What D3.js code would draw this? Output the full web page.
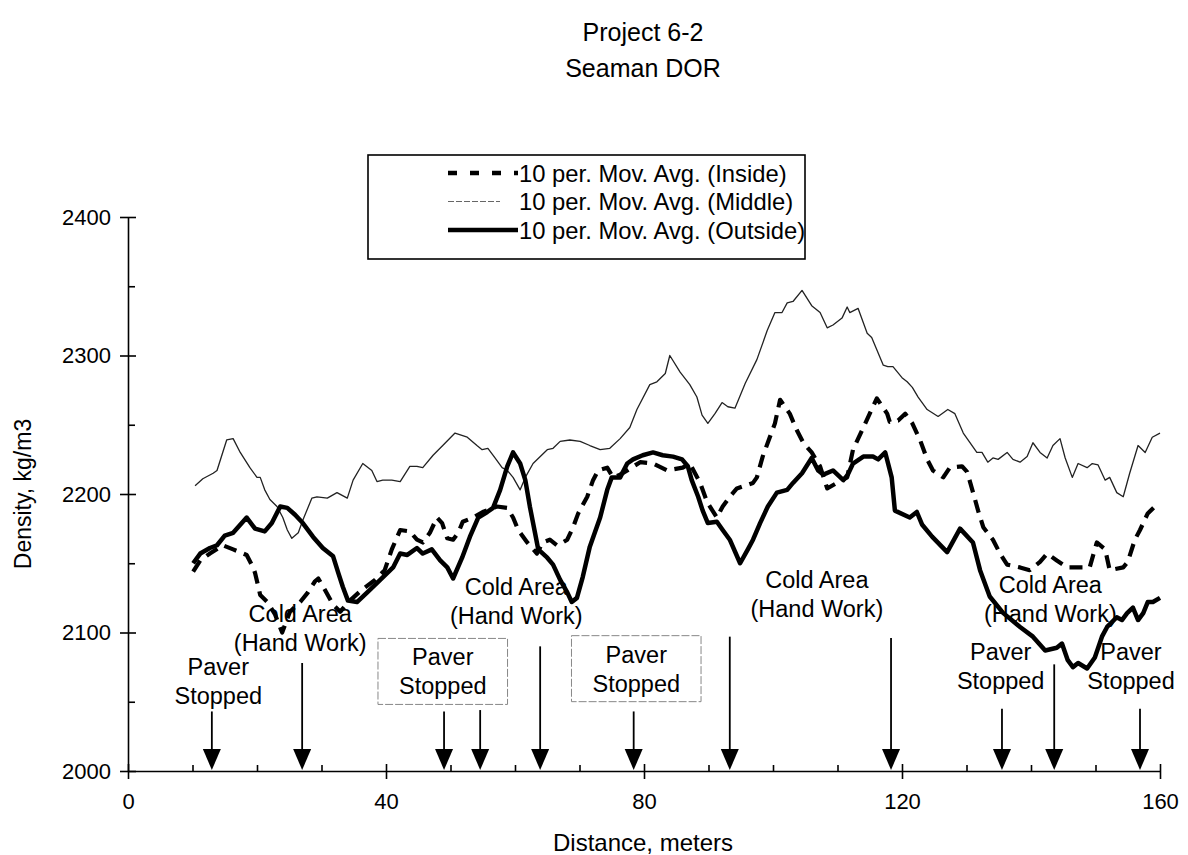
<!DOCTYPE html>
<html>
<head>
<meta charset="utf-8">
<script src="https://cdn.jsdelivr.net/npm/d3@7"></script>
<style>
  body { margin: 0; background: #fff; }
  svg { font-family: Arial, "Liberation Sans", sans-serif; }
</style>
</head>
<body>
<svg id="canvas" width="1188" height="855"></svg>
<script>
'use strict';

/* chart values, [distance m, density kg/m3] */
const insideSeries = [[10.1,2144],[11.2,2152],[12.7,2157],[14.7,2163],[16.3,2160],[18.4,2156],[19.4,2147],[19.7,2143],[20.5,2127],[21.6,2122],[22.8,2113],[23.9,2100],[25.1,2115],[26.7,2122],[27.9,2129],[29.0,2137],[29.5,2139],[30.5,2131],[31.8,2120],[32.9,2115],[34.4,2123],[36.3,2131],[38.3,2138],[39.8,2145],[40.9,2160],[42.2,2174],[43.7,2173],[44.8,2167],[45.7,2165],[46.8,2172],[47.9,2183],[48.7,2179],[49.5,2168],[50.4,2167],[51.2,2172],[51.9,2180],[53.5,2183],[55.0,2187],[57.2,2191],[58.8,2190],[59.7,2183],[60.5,2174],[61.9,2165],[63.4,2157],[64.3,2165],[65.4,2167],[66.5,2163],[67.4,2165],[68.1,2167],[69.0,2176],[69.8,2186],[71.2,2198],[72.1,2210],[72.9,2217],[74.3,2219],[75.2,2212],[76.3,2214],[77.4,2217],[79.4,2223],[81.4,2222],[83.6,2217],[86.0,2219],[87.1,2222],[88.7,2208],[89.8,2194],[91.3,2183],[92.2,2191],[93.3,2198],[94.4,2204],[96.9,2208],[97.5,2212],[98.4,2227],[99.5,2241],[100.3,2251],[101.1,2268],[102.6,2258],[103.7,2246],[104.7,2237],[106.0,2230],[107.3,2220],[108.4,2204],[109.9,2208],[111.5,2212],[112.4,2232],[114.0,2248],[115.3,2261],[116.1,2269],[117.7,2258],[118.1,2252],[119.4,2253],[120.5,2258],[121.6,2251],[122.8,2239],[123.9,2225],[124.8,2217],[126.4,2212],[127.4,2219],[129.3,2220],[130.1,2216],[130.9,2203],[131.8,2188],[132.6,2176],[134.1,2167],[135.2,2157],[136.3,2149],[138.3,2147],[139.8,2145],[141.4,2151],[142.5,2157],[144.0,2152],[145.6,2147],[148.1,2147],[149.1,2147],[150.2,2165],[151.5,2160],[152.2,2145],[154.3,2147],[155.0,2151],[156.1,2167],[156.9,2174],[158.1,2186],[159.2,2191],[160.0,2192]];

const middleSeries = [[10.4,2206],[11.6,2211],[13.2,2215],[13.8,2217],[15.3,2239],[16.3,2240],[17.4,2230],[18.9,2219],[20.0,2212],[20.5,2212],[21.2,2203],[22.0,2196],[23.1,2191],[24.0,2183],[24.7,2174],[25.4,2168],[26.4,2172],[27.1,2181],[28.5,2197],[29.3,2198],[30.9,2197],[32.4,2201],[34.0,2197],[34.9,2210],[36.4,2222],[37.8,2217],[38.6,2209],[39.5,2210],[40.9,2210],[42.2,2209],[43.7,2220],[44.8,2220],[45.7,2219],[47.3,2228],[48.8,2235],[50.7,2244],[52.6,2241],[54.1,2235],[54.9,2232],[55.8,2233],[56.9,2226],[58.0,2219],[58.8,2217],[59.7,2212],[60.8,2203],[61.6,2212],[62.8,2222],[65.0,2232],[65.9,2233],[67.0,2238],[68.5,2239],[70.1,2238],[71.6,2235],[73.2,2232],[74.7,2233],[76.3,2240],[77.8,2248],[78.9,2261],[80.9,2279],[82.0,2281],[83.3,2287],[84.0,2300],[85.6,2288],[87.1,2279],[88.2,2270],[89.0,2257],[89.9,2251],[91.0,2258],[92.1,2266],[93.0,2263],[94.1,2262],[95.7,2280],[97.5,2297],[99.1,2318],[100.3,2331],[101.4,2331],[102.2,2338],[103.1,2339],[104.5,2347],[106.0,2336],[107.3,2331],[108.4,2320],[109.3,2322],[110.7,2327],[111.5,2335],[111.9,2331],[113.2,2334],[114.6,2316],[115.3,2313],[117.1,2293],[117.8,2292],[118.6,2292],[120.0,2284],[120.8,2281],[121.6,2277],[122.5,2270],[123.9,2261],[125.6,2256],[127.1,2261],[128.2,2258],[129.5,2244],[131.6,2230],[132.4,2230],[133.3,2223],[134.1,2226],[134.9,2225],[136.3,2230],[137.2,2225],[138.3,2223],[139.4,2227],[140.3,2237],[141.4,2230],[142.5,2226],[143.4,2235],[144.5,2240],[145.3,2226],[146.4,2212],[147.3,2222],[148.7,2219],[149.5,2222],[150.4,2221],[151.5,2210],[152.2,2212],[153.3,2201],[154.3,2198],[155.3,2215],[156.6,2235],[157.7,2230],[158.8,2241],[160.0,2244]];

const outsideSeries = [[10.1,2150],[11.2,2157],[12.7,2161],[13.8,2163],[15.0,2170],[16.3,2172],[18.4,2183],[19.7,2175],[21.2,2173],[22.3,2179],[23.6,2191],[24.7,2190],[25.9,2185],[27.1,2179],[28.7,2169],[30.2,2161],[31.8,2155],[32.6,2143],[33.3,2133],[34.1,2123],[35.5,2122],[37.1,2129],[39.1,2138],[41.1,2147],[42.2,2157],[43.3,2156],[44.8,2161],[45.7,2157],[47.1,2160],[48.4,2152],[49.5,2147],[50.4,2139],[51.8,2154],[53.0,2169],[54.3,2183],[55.7,2187],[56.6,2190],[57.7,2203],[58.8,2220],[59.7,2230],[60.8,2222],[61.6,2210],[62.3,2191],[63.1,2172],[63.6,2160],[65.0,2154],[65.9,2149],[67.0,2138],[68.1,2129],[68.8,2122],[69.6,2125],[70.5,2140],[71.6,2162],[73.2,2183],[74.3,2203],[75.0,2212],[76.3,2212],[77.4,2222],[78.3,2225],[79.8,2228],[81.4,2230],[82.9,2228],[84.5,2227],[85.9,2225],[86.8,2220],[87.4,2210],[88.4,2198],[89.1,2188],[89.9,2179],[91.3,2180],[92.2,2174],[93.3,2167],[94.9,2150],[96.1,2160],[96.9,2167],[98.0,2179],[99.2,2191],[100.6,2201],[102.2,2203],[103.1,2208],[104.5,2215],[106.0,2226],[107.0,2217],[107.8,2214],[109.3,2217],[110.9,2210],[111.6,2214],[112.4,2222],[114.0,2227],[115.5,2227],[116.3,2225],[117.4,2230],[118.4,2212],[118.9,2188],[121.2,2183],[122.3,2187],[123.1,2178],[124.7,2169],[127.0,2158],[129.0,2175],[131.0,2165],[132.1,2145],[133.6,2126],[135.7,2114],[138.3,2104],[140.3,2097],[142.2,2087],[144.0,2089],[144.8,2092],[145.7,2080],[146.5,2075],[147.3,2078],[148.7,2074],[149.9,2082],[151.0,2097],[151.8,2104],[153.3,2111],[154.1,2109],[154.9,2114],[155.8,2118],[156.6,2109],[157.4,2114],[158.1,2122],[158.9,2122],[160.0,2125]];

const seriesNames = ['10 per. Mov. Avg. (Inside)', '10 per. Mov. Avg. (Middle)', '10 per. Mov. Avg. (Outside)'];

/* axis ticks */
const xMajorTicks = [0, 40, 80, 120, 160];
const xMinorTicks = [10, 20, 30, 50, 60, 70, 90, 100, 110, 130, 140, 150];
const yMajorTicks = [2000, 2100, 2200, 2300, 2400];
const yMinorTicks = [2050, 2150, 2250, 2350];

/* annotations: arrows (distance, top of the shaft in density) and labels */
const arrowDistances = [13.0, 27.0, 49.0, 54.6, 63.9, 78.4, 93.3, 118.3, 135.5, 143.6, 156.9];
const arrowTops = [2043, 2078, 2043, 2044, 2090, 2043, 2097, 2096, 2045, 2077, 2045];
const labelLines = [
  ['Paver', 'Stopped'], ['Cold Area', '(Hand Work)'], ['Paver', 'Stopped'],
  ['Cold Area', '(Hand Work)'], ['Paver', 'Stopped'], ['Cold Area', '(Hand Work)'],
  ['Cold Area', '(Hand Work)'], ['Paver', 'Stopped'], ['Paver', 'Stopped']
];
const labelDistances = [14.0, 26.7, 48.8, 60.2, 78.8, 106.8, 143.0, 135.3, 155.5];
const labelDensities = [2075, 2113, 2082, 2133, 2084, 2138, 2134, 2086, 2086];
const labelBoxed = [false, false, true, false, true, false, false, false, false];

/* drawing area */
let svg = d3.select('svg#canvas');
let x = d3.scaleLinear().domain([0, 160]).range([128, 1160]);
let y = d3.scaleLinear().domain([2000, 2400]).range([771, 217]);

/* title */
svg.append('text')
  .attr('x', 643).attr('y', 41)
  .attr('text-anchor', 'middle')
  .style('font-size', '25px')
  .text('Project 6-2')
  ;
svg.append('text')
  .attr('x', 643).attr('y', 77)
  .attr('text-anchor', 'middle')
  .style('font-size', '25px')
  .text('Seaman DOR')
  ;

/* y axis, major ticks cross the line, minor ticks point inside */
let yAxis = svg.append('g')
  .attr('transform', 'translate(' + x(0) + ',0)')
  .call(d3.axisLeft(y).tickValues(yMajorTicks).tickFormat(d3.format('d')).tickSizeOuter(0))
  ;
yAxis.selectAll('.tick line').attr('x1', 8).attr('x2', -8);
yAxis.selectAll('.tick text').attr('x', -17).style('font-size', '22px').style('font-family', 'Arial, "Liberation Sans", sans-serif');
svg.append('g')
  .attr('transform', 'translate(' + x(0) + ',0)')
  .call(d3.axisRight(y).tickValues(yMinorTicks).tickFormat('').tickSize(7).tickSizeOuter(0))
  .select('.domain').remove()
  ;

/* x axis */
let xAxis = svg.append('g')
  .attr('transform', 'translate(0,' + y(2000) + ')')
  .call(d3.axisBottom(x).tickValues(xMajorTicks).tickSizeOuter(0))
  ;
xAxis.selectAll('.tick line').attr('y1', -7).attr('y2', 8);
xAxis.selectAll('.tick text').attr('y', 22).style('font-size', '22px').style('font-family', 'Arial, "Liberation Sans", sans-serif');
svg.append('g')
  .attr('transform', 'translate(0,' + y(2000) + ')')
  .call(d3.axisTop(x).tickValues(xMinorTicks).tickFormat('').tickSize(6).tickSizeOuter(0))
  .select('.domain').remove()
  ;
svg.selectAll('.domain, .tick line').attr('stroke', '#000').attr('stroke-width', 1.6);

/* axis titles */
svg.append('text')
  .attr('x', 643).attr('y', 851)
  .attr('text-anchor', 'middle')
  .style('font-size', '24px')
  .text('Distance, meters')
  ;
svg.append('text')
  .attr('transform', 'translate(31,494) rotate(-90)')
  .attr('text-anchor', 'middle')
  .style('font-size', '23px')
  .text('Density, kg/m3')
  ;

/* the three moving averages */
let line = d3.line()
  .x(function(d){ return x(d[0]); })
  .y(function(d){ return y(d[1]); })
  ;
let styles = [
  {data: insideSeries, width: 4.2, dash: '13,8', color: '#000'},
  {data: middleSeries, width: 1.3, dash: null, color: '#222'},
  {data: outsideSeries, width: 4.5, dash: null, color: '#000'}
];
svg.append('g').attr('id', 'series')
  .selectAll('path')
  .data(styles)
  .enter().append('path')
    .attr('d', function(d){ return line(d.data); })
    .attr('fill', 'none')
    .attr('stroke', function(d){ return d.color; })
    .attr('stroke-width', function(d){ return d.width; })
    .attr('stroke-dasharray', function(d){ return d.dash; })
    .attr('stroke-linejoin', 'round')
  ;

/* legend */
let legend = svg.append('g').attr('id', 'legend');
legend.append('rect')
  .attr('x', 368).attr('y', 155).attr('width', 437).attr('height', 104)
  .attr('fill', '#fff').attr('stroke', '#000').attr('stroke-width', 1.6)
  ;
let legendStyles = [
  {width: 4.5, dash: '9,13', color: '#000', x2: 518},
  {width: 1.2, dash: '6,2', color: '#666', x2: 500},
  {width: 4.5, dash: null, color: '#000', x2: 518}
];
legendStyles.forEach(function(s, i){
  let ly = 173 + i * 28.5;
  legend.append('line')
    .attr('x1', 448).attr('x2', s.x2).attr('y1', ly).attr('y2', ly)
    .attr('stroke', s.color).attr('stroke-width', s.width)
    .attr('stroke-dasharray', s.dash)
    ;
  legend.append('text')
    .attr('x', 519).attr('y', ly)
    .attr('dominant-baseline', 'central')
    .style('font-size', '23.8px')
    .text(seriesNames[i])
    ;
});

/* arrows pointing to the paver stops and cold areas */
let arrows = svg.append('g').attr('id', 'arrows')
  .selectAll('g')
  .data(arrowDistances)
  .enter().append('g')
  ;
arrows.append('line')
  .attr('x1', function(d){ return x(d); })
  .attr('x2', function(d){ return x(d); })
  .attr('y1', function(d, i){ return y(arrowTops[i]); })
  .attr('y2', y(2000) - 12)
  .attr('stroke', '#000').attr('stroke-width', 1.8)
  ;
arrows.append('path')
  .attr('d', function(d){
    let px = x(d), py = y(2000) - 1;
    return 'M' + px + ',' + py + 'L' + (px - 9) + ',' + (py - 21) + 'L' + (px + 9) + ',' + (py - 21) + 'Z';
  })
  .attr('fill', '#000')
  ;

/* annotation labels, two of them in a light box */
let labels = svg.append('g').attr('id', 'labels');
labelLines.forEach(function(lines, i){
  let g = labels.append('g');
  let box = null;
  if( labelBoxed[i] ) box = g.append('rect');
  lines.forEach(function(t, j){
    g.append('text')
      .attr('x', x(labelDistances[i]))
      .attr('y', y(labelDensities[i]) + j * 29)
      .attr('text-anchor', 'middle')
      .attr('dominant-baseline', 'central')
      .style('font-size', '23.5px')
      .text(t)
      ;
  });
  if( box ){
    let bb = g.node().getBBox();
    box.attr('x', bb.x - 21).attr('y', bb.y - 6)
      .attr('width', bb.width + 42).attr('height', bb.height + 11)
      .attr('fill', '#fff').attr('stroke', '#888').attr('stroke-width', 1)
      .attr('stroke-dasharray', '8,2')
      ;
  }
});
</script>
</body>
</html>
